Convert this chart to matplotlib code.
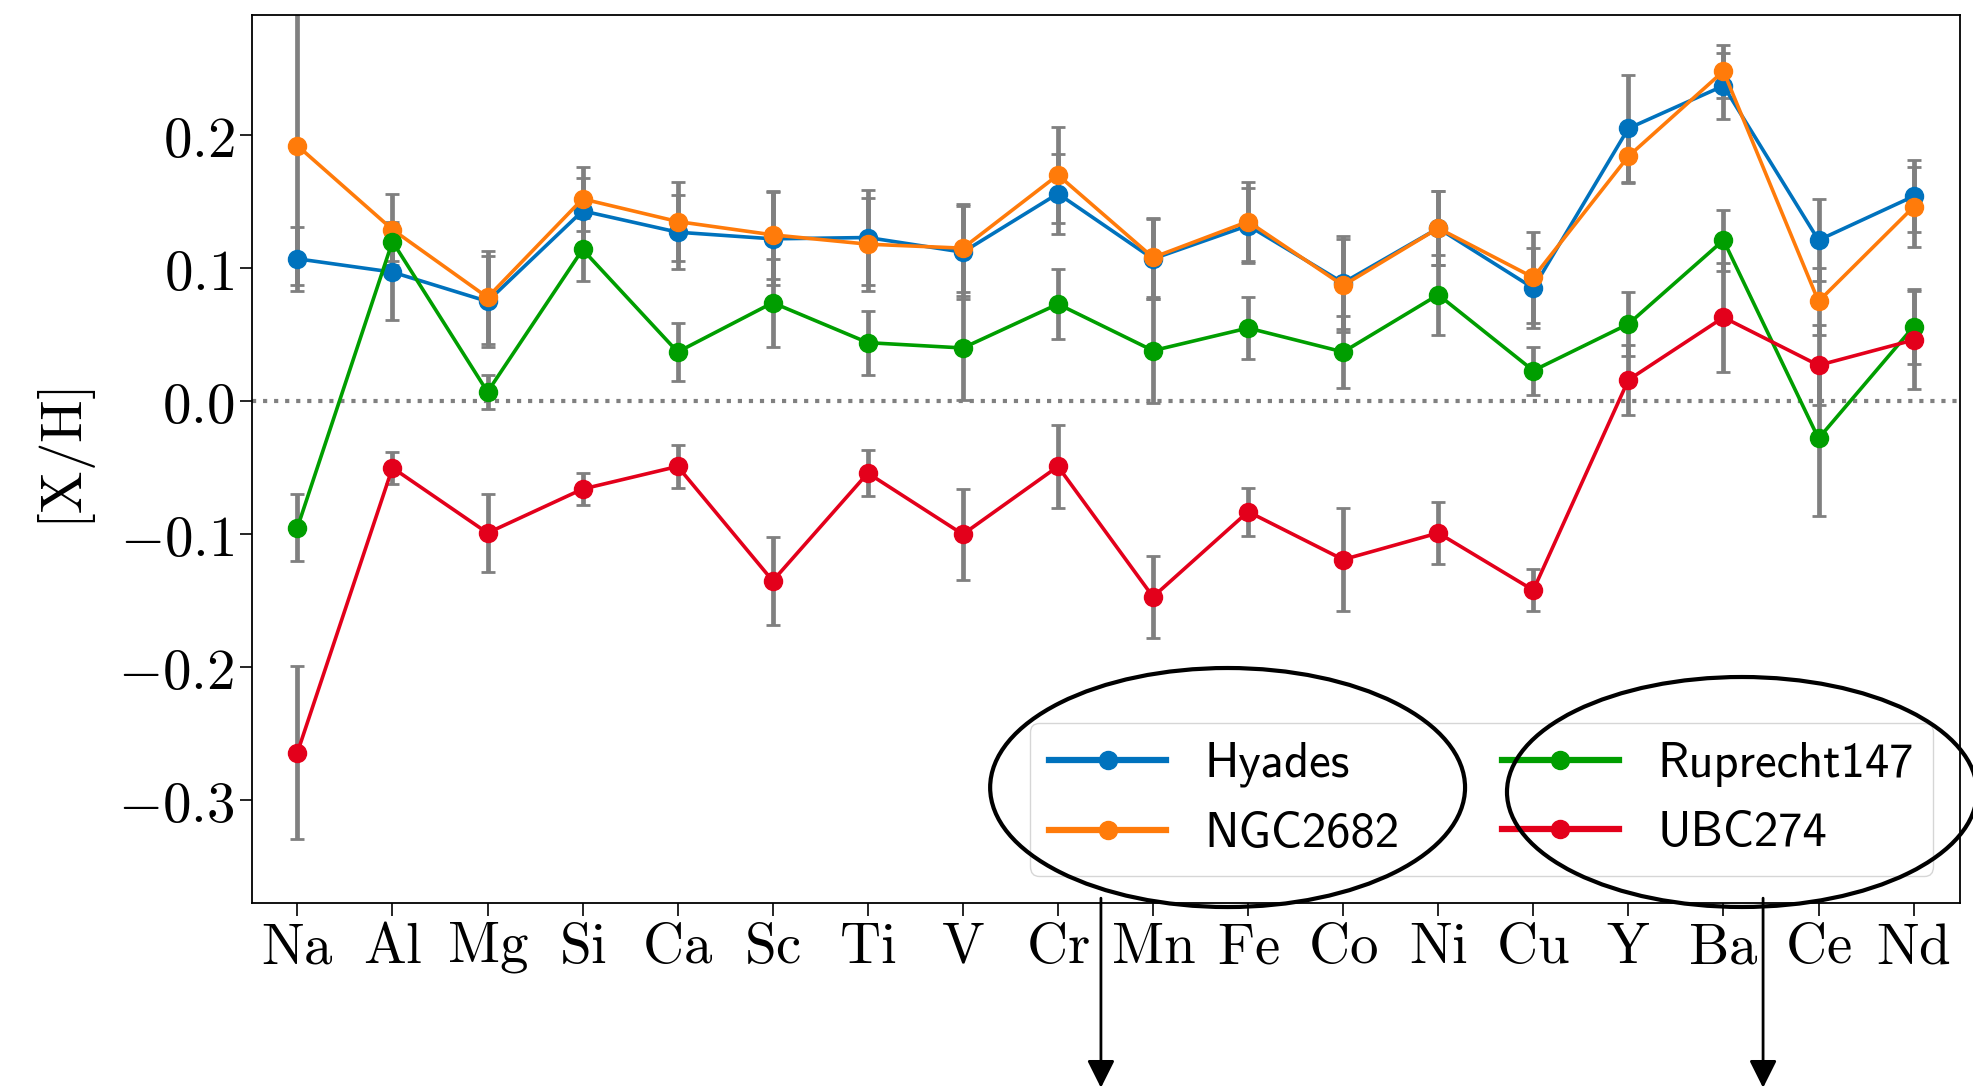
import matplotlib
matplotlib.use('Agg')
import matplotlib.pyplot as plt
from matplotlib.patches import Ellipse, FancyArrowPatch
from matplotlib.ticker import FuncFormatter

plt.rcParams['mathtext.fontset'] = 'cm'

elements = ['Na', 'Al', 'Mg', 'Si', 'Ca', 'Sc', 'Ti', 'V', 'Cr',
            'Mn', 'Fe', 'Co', 'Ni', 'Cu', 'Y', 'Ba', 'Ce', 'Nd']

hyades = [0.107, 0.097, 0.075, 0.143, 0.127, 0.122, 0.123, 0.112, 0.156,
          0.107, 0.132, 0.089, 0.130, 0.085, 0.205, 0.237, 0.121, 0.154]
hyades_err = [0.024, 0.036, 0.034, 0.025, 0.028, 0.035, 0.036, 0.035, 0.030,
              0.030, 0.028, 0.035, 0.028, 0.030, 0.040, 0.025, 0.031, 0.027]

ngc2682 = [0.192, 0.129, 0.078, 0.152, 0.135, 0.125, 0.118, 0.115, 0.170,
           0.108, 0.135, 0.087, 0.130, 0.093, 0.184, 0.248, 0.075, 0.146]
ngc2682_err = [0.105, 0.027, 0.035, 0.024, 0.030, 0.033, 0.035, 0.033, 0.036,
               0.030, 0.030, 0.035, 0.028, 0.034, 0.020, 0.020, 0.025, 0.030]

ruprecht147 = [-0.095, 0.120, 0.007, 0.114, 0.037, 0.074, 0.044, 0.040, 0.073,
               0.038, 0.055, 0.037, 0.080, 0.023, 0.058, 0.121, -0.028, 0.056]
ruprecht147_err = [0.025, 0.015, 0.013, 0.024, 0.022, 0.033, 0.024, 0.039, 0.026,
                   0.039, 0.023, 0.027, 0.030, 0.018, 0.024, 0.023, 0.058, 0.028]

ubc274 = [-0.264, -0.050, -0.099, -0.066, -0.049, -0.135, -0.054, -0.100, -0.049,
          -0.147, -0.083, -0.119, -0.099, -0.142, 0.016, 0.063, 0.027, 0.046]
ubc274_err = [0.065, 0.012, 0.029, 0.012, 0.016, 0.033, 0.017, 0.034, 0.031,
              0.031, 0.018, 0.039, 0.023, 0.016, 0.026, 0.041, 0.030, 0.037]

series = [('Hyades', hyades, hyades_err, '#0072bd'),
          ('NGC2682', ngc2682, ngc2682_err, '#ff7b0a'),
          ('Ruprecht147', ruprecht147, ruprecht147_err, '#009e00'),
          ('UBC274', ubc274, ubc274_err, '#e3001b')]

fig = plt.figure(figsize=(19.73, 10.90), dpi=100)
ax = fig.add_axes([0.1276, 0.1716, 0.8659, 0.8144])

x = list(range(len(elements)))

ax.axhline(0, color='grey', ls=':', lw=3, zorder=1)

for name, vals, errs, col in series:
    ax.errorbar(x, vals, yerr=errs, fmt='none', ecolor='grey',
                elinewidth=3.4, capsize=5, capthick=2, zorder=2)

for name, vals, errs, col in series:
    ax.plot(x, vals, '-o', color=col, lw=2.6, ms=13, label=name, zorder=3)

ax.set_xlim(-0.48, 17.49)
ax.set_ylim(-0.377, 0.29)
ax.set_xticks(x)
ax.set_xticklabels([r'$\mathrm{%s}$' % e for e in elements], fontsize=41)
ax.set_yticks([-0.3, -0.2, -0.1, 0.0, 0.1, 0.2])
ax.yaxis.set_major_formatter(FuncFormatter(lambda v, p: r'$%.1f$' % v))
ax.tick_params(axis='y', labelsize=41)
ax.tick_params(length=9, width=1.2)
ax.set_ylabel(r'$[\mathrm{X/H}]$', fontsize=41, labelpad=14)
for s in ax.spines.values():
    s.set_linewidth(1.3)

leg = ax.legend(ncol=2, loc='lower right', prop={'family': 'cmss10', 'size': 35},
                handlelength=2.4, handletextpad=0.8, columnspacing=2.1,
                labelspacing=0.5, borderaxespad=0.55, borderpad=0.4,
                fancybox=True)
for h in leg.legend_handles:
    h.set_linewidth(4.5)

# annotation marks drawn over the figure
fig.add_artist(Ellipse((0.6222, 0.2775), 0.2407, 0.2193, transform=fig.transFigure,
                       fill=False, ec='black', lw=3, clip_on=False))
fig.add_artist(Ellipse((0.8829, 0.2734), 0.2382, 0.2110, transform=fig.transFigure,
                       fill=False, ec='black', lw=3, clip_on=False))
for ax_x in [0.558, 0.8936]:
    fig.add_artist(FancyArrowPatch((ax_x, 0.176), (ax_x, 0.002), transform=fig.transFigure,
                                   arrowstyle='-|>,head_length=0.4,head_width=0.2',
                                   mutation_scale=42, color='black', lw=2,
                                   shrinkA=0, shrinkB=0))

fig.savefig('out.png', dpi=100)
